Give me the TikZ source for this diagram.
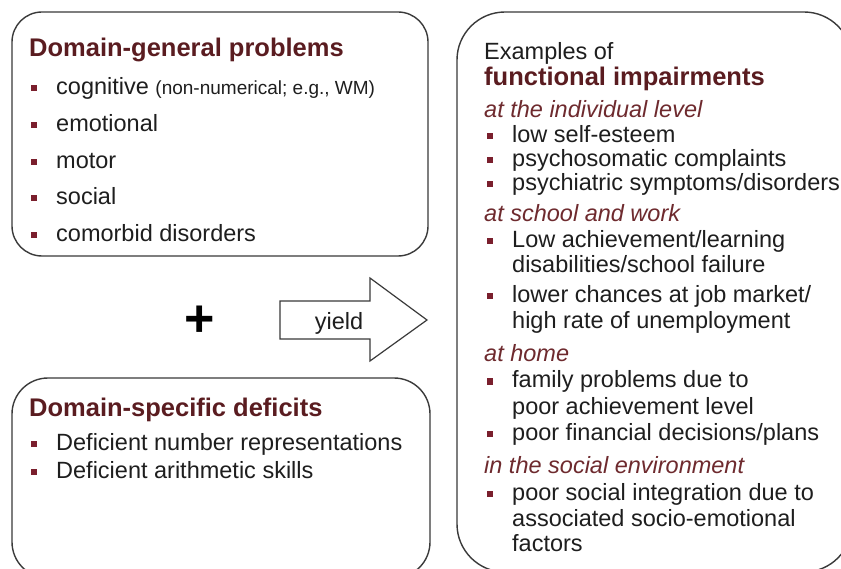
\documentclass[tikz,border=0pt]{standalone}
\usepackage{fontspec}
\setmainfont{Liberation Sans}
\usetikzlibrary{calc}
\definecolor{boxline}{HTML}{3A3A3A}
\definecolor{titlered}{HTML}{5A1C20}
\definecolor{headred}{HTML}{6E2A2E}
\definecolor{bulletred}{HTML}{7A1F2D}
\definecolor{txt}{HTML}{1E1E1E}
\tikzset{
  panel/.style={draw=boxline, line width=1.4pt},
  ttl/.style={anchor=base west, inner sep=0pt, font=\fontsize{25.5}{28}\selectfont\bfseries, text=titlered},
  itm/.style={anchor=base west, inner sep=0pt, font=\fontsize{23.5}{26}\selectfont, text=txt},
  hd/.style={anchor=base west, inner sep=0pt, font=\fontsize{23.5}{26}\selectfont\itshape, text=headred},
  bul/.style={fill=bulletred},
}
\newcommand\bulletat[1]{\fill[bul] ($(#1.base west)+(-24.75,-9.5)$) rectangle ++(5.5,6);}
\begin{document}
\begin{tikzpicture}[x=1pt,y=-1pt]
\useasboundingbox (0,0) rectangle (841,569);
\fill[white] (0,0) rectangle (841,569);
\clip (0,0) rectangle (841,569);

% panels
\draw[panel, rounded corners=30pt] (12,12) rectangle (428,256);
\draw[panel, rounded corners=36pt] (12,378) rectangle (430,578);
\draw[panel, rounded corners=48pt] (457,12) rectangle (852,572);

% yield arrow
\draw[panel, line width=1.2pt, line join=miter]
  (280,301) -- (370,301) -- (370,278) -- (427,320) -- (370,361) -- (370,339) -- (280,339) -- cycle;
\node[itm, anchor=base] (yield) at (339,330) {yield};

% plus
\node[inner sep=0pt, font=\fontsize{52}{56}\selectfont\bfseries, text=black] (plus) at (200,321) {+};

% domain-general
\node[ttl] (gt) at (29,57) {Domain-general problems};
\node[itm] (g1) at (56,95) {cognitive {\fontsize{19}{22}\selectfont(non-numerical; e.g., WM)}};
\node[itm] (g2) at (56,132) {emotional};
\node[itm] (g3) at (56,168.5) {motor};
\node[itm] (g4) at (56,205) {social};
\node[itm] (g5) at (56,242) {comorbid disorders};
\foreach \n in {g1,g2,g3,g4,g5} {\bulletat{\n}}

% domain-specific
\node[ttl] (st) at (29,416) {Domain-specific deficits};
\node[itm] (s1) at (56,450) {Deficient number representations};
\node[itm] (s2) at (56,478) {Deficient arithmetic skills};
\foreach \n in {s1,s2} {\bulletat{\n}}

% functional impairments
\node[itm] (et) at (484,60) {Examples of};
\node[ttl] (ft) at (484,86) {functional impairments};
\node[hd] (h1) at (484,118) {at the individual level};
\node[itm] (a1) at (512,143) {low self-esteem};
\node[itm] (a2) at (512,167) {psychosomatic complaints};
\node[itm] (a3) at (512,191) {psychiatric symptoms/disorders};
\node[hd] (h2) at (484,222) {at school and work};
\node[itm] (b1) at (512,248) {Low achievement/learning};
\node[itm] (b1b) at (512,273) {disabilities/school failure};
\node[itm] (b2) at (512,303) {lower chances at job market/};
\node[itm] (b2b) at (512,329) {high rate of unemployment};
\node[hd] (h3) at (484,362) {at home};
\node[itm] (c1) at (512,388) {family problems due to};
\node[itm] (c1b) at (512,414) {poor achievement level};
\node[itm] (c2) at (512,440) {poor financial decisions/plans};
\node[hd] (h4) at (484,473) {in the social environment};
\node[itm] (d1) at (512,500) {poor social integration due to};
\node[itm] (d1b) at (512,526) {associated socio-emotional};
\node[itm] (d1c) at (512,551) {factors};
\foreach \n in {a1,a2,a3,b1,b2,c1,c2,d1} {\bulletat{\n}}
\end{tikzpicture}
\end{document}
